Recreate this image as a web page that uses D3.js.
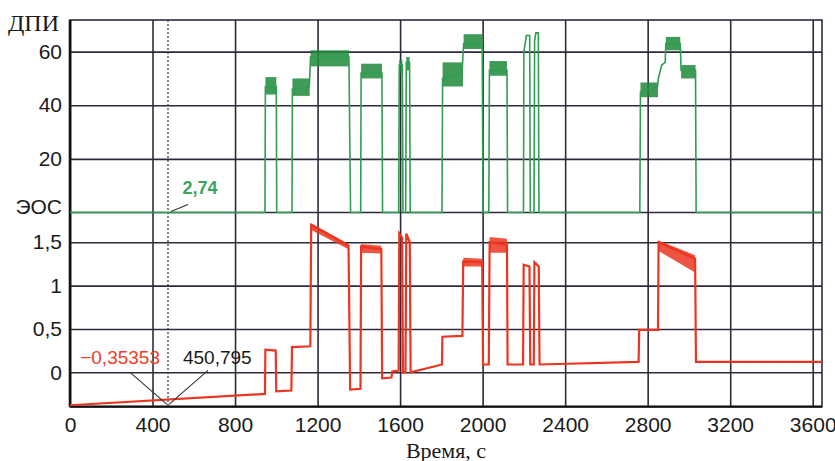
<!DOCTYPE html>
<html>
<head>
<meta charset="utf-8">
<script src="https://cdn.jsdelivr.net/npm/d3@7"></script>
<style>
  html, body { margin: 0; padding: 0; background: #fff; }
  svg { display: block; }
  .tick text { font-family: 'Liberation Sans', Arial, sans-serif; font-size: 21px; fill: #1a1a1a; }
</style>
</head>
<body>
<div id="chart"></div>
<script>
// time ticks, s
const xTicks = [0, 400, 800, 1200, 1600, 2000, 2400, 2800, 3200, 3600];
const dpiTicks = [20, 40, 60];
const eosTicks = [0, 0.5, 1, 1.5];

// ДПИ signal: [time, value]
const dpiSeries = [
  [0, 0], [945, 0], [947, 47], [1000, 47], [1002, 0],
  [1076, 0], [1078, 46], [1160, 47], [1166, 58], [1352, 58], [1360, 0],
  [1409, 0], [1411, 52], [1512, 52], [1515, 0],
  [1593, 0], [1596, 55], [1611, 55], [1614, 0], [1627, 0], [1630, 56], [1646, 56], [1649, 0],
  [1803, 0], [1806, 50], [1900, 52], [1908, 63], [1998, 63], [2002, 0],
  [2030, 0], [2033, 53], [2118, 53], [2121, 0],
  [2198, 0], [2200, 60], [2212, 66], [2228, 66], [2231, 0],
  [2249, 0], [2252, 64], [2258, 67], [2270, 67], [2273, 0],
  [2762, 0], [2765, 45], [2848, 47], [2852, 50], [2868, 55], [2885, 56], [2888, 63],
  [2958, 63], [2962, 53], [3032, 53], [3035, 0],
  [3645, 0]
];
// noisy plateaus of ДПИ: [t0, t1, low, high]
const dpiNoise = [
  [947, 1000, 44, 50.5], [1078, 1162, 43.5, 50], [1166, 1352, 54.5, 60.5],
  [1411, 1512, 50, 55.5], [1596, 1611, 52, 57], [1630, 1646, 53, 58],
  [1806, 1905, 47, 56], [1908, 1998, 61, 66.5], [2033, 2118, 51, 56.5],
  [2765, 2850, 43, 48.5], [2888, 2958, 60.5, 65.5], [2962, 3032, 50, 55]
];

// ЭОС signal: [time, value]
const eosSeries = [
  [0, -0.38], [945, -0.25], [947, 0.26], [997, 0.25], [1000, -0.22],
  [1073, -0.21], [1076, 0.29], [1165, 0.30], [1169, 1.70], [1350, 1.46], [1358, -0.20],
  [1408, -0.19], [1411, 1.45], [1509, 1.42], [1513, -0.07], [1558, -0.06], [1562, 0.01],
  [1593, 0.02], [1596, 1.60], [1610, 1.55], [1614, 0.0], [1626, 0.0], [1630, 1.60],
  [1647, 1.50], [1651, 0.0], [1803, 0.09], [1805, 0.41], [1902, 0.42], [1906, 1.28],
  [1998, 1.27], [2002, 0.09], [2030, 0.09], [2034, 1.50], [2118, 1.47], [2121, 0.09],
  [2196, 0.09], [2199, 1.24], [2227, 1.22], [2231, 0.09], [2248, 0.09], [2251, 1.27],
  [2272, 1.22], [2276, 0.09], [2756, 0.12], [2759, 0.49], [2850, 0.49], [2853, 1.50],
  [3030, 1.31], [3034, 0.12], [3645, 0.12]
];
// noisy plateaus of ЭОС: [t0, t1, low0, high0, low1, high1]
const eosNoise = [
  [1169, 1350, 1.64, 1.72, 1.42, 1.48],
  [1411, 1509, 1.38, 1.48, 1.37, 1.46],
  [1906, 1998, 1.22, 1.32, 1.22, 1.31],
  [2034, 2118, 1.38, 1.56, 1.38, 1.54],
  [2853, 3030, 1.40, 1.52, 1.15, 1.35]
];

// cursor
const cursorT = 475;
const cursorTimeLabel = '450,795';
const cursorDpiLabel = '2,74';
const cursorEosLabel = '\u22120,35353';
const cursorEos = -0.37;

const W = 835, H = 461;
const box = { left: 70, right: 822, top: 20, mid: 212.5, bottom: 406.7 };
const gridColor = '#2e2a3c';
const green = '#2f9e4f';
const greenDark = '#1f8a3c';
const red = '#ec3520';

const svg = d3.select('#chart').append('svg')
  .attr('width', W).attr('height', H);

const x = d3.scaleLinear().domain([0, 3645]).range([box.left, box.right]);
const yDpi = d3.scaleLinear().domain([0, 71.8]).range([box.mid, box.top]);
const yEos = d3.scaleLinear().domain([-0.397, 1.843]).range([box.bottom, box.mid]);

const fmt = d3.formatLocale({ decimal: ',', thousands: '', grouping: [3], currency: ['', ''] }).format('~g');

// vertical grid
svg.append('g')
  .attr('transform', `translate(0,${box.bottom})`)
  .call(d3.axisBottom(x).tickValues(xTicks).tickSize(-(box.bottom - box.top)).tickFormat(''))
  .call(g => g.select('.domain').remove())
  .call(g => g.selectAll('line').attr('stroke', gridColor).attr('stroke-width', 1.6));

// horizontal grid
[[yDpi, dpiTicks], [yEos, eosTicks]].forEach(([y, ticks]) => {
  svg.append('g')
    .attr('transform', `translate(${box.left},0)`)
    .call(d3.axisLeft(y).tickValues(ticks).tickSize(-(box.right - box.left)).tickFormat(''))
    .call(g => g.select('.domain').remove())
    .call(g => g.selectAll('line').attr('stroke', gridColor).attr('stroke-width', 1.6));
});

// panel borders
svg.append('rect')
  .attr('x', box.left).attr('y', box.top)
  .attr('width', box.right - box.left).attr('height', box.bottom - box.top)
  .attr('fill', 'none').attr('stroke', gridColor).attr('stroke-width', 1.6);
svg.append('line')
  .attr('x1', box.left).attr('x2', box.right).attr('y1', box.mid).attr('y2', box.mid)
  .attr('stroke', gridColor).attr('stroke-width', 1.6);
svg.append('line')
  .attr('x1', box.left).attr('x2', box.left).attr('y1', box.top).attr('y2', box.bottom)
  .attr('stroke', '#111').attr('stroke-width', 2.6);
svg.append('line')
  .attr('x1', box.left).attr('x2', box.right).attr('y1', box.bottom).attr('y2', box.bottom)
  .attr('stroke', '#111').attr('stroke-width', 2.2);

// cursor
svg.append('line')
  .attr('x1', x(cursorT)).attr('x2', x(cursorT))
  .attr('y1', box.top).attr('y2', box.bottom)
  .attr('stroke', '#333').attr('stroke-width', 1.2)
  .attr('stroke-dasharray', '2,2');

// noise bands
svg.append('g').selectAll('rect')
  .data(dpiNoise)
  .join('rect')
  .attr('x', d => x(d[0]))
  .attr('width', d => x(d[1]) - x(d[0]))
  .attr('y', d => yDpi(d[3]))
  .attr('height', d => yDpi(d[2]) - yDpi(d[3]))
  .attr('fill', greenDark)
  .attr('opacity', 0.85);

svg.append('g').selectAll('path')
  .data(eosNoise)
  .join('path')
  .attr('d', d => `M${x(d[0])},${yEos(d[3])}L${x(d[1])},${yEos(d[5])}L${x(d[1])},${yEos(d[4])}L${x(d[0])},${yEos(d[2])}Z`)
  .attr('fill', red)
  .attr('opacity', 0.85);

// series
const lineDpi = d3.line().x(d => x(d[0])).y(d => yDpi(d[1]));
const lineEos = d3.line().x(d => x(d[0])).y(d => yEos(d[1]));

svg.append('path')
  .datum(dpiSeries)
  .attr('d', lineDpi)
  .attr('fill', 'none')
  .attr('stroke', green)
  .attr('stroke-width', 1.6);

svg.append('path')
  .datum(eosSeries)
  .attr('d', lineEos)
  .attr('fill', 'none')
  .attr('stroke', red)
  .attr('stroke-width', 2.2);

// tick labels
svg.append('g')
  .attr('transform', `translate(${box.left},0)`)
  .call(d3.axisLeft(yDpi).tickValues(dpiTicks).tickSize(0).tickPadding(8).tickFormat(fmt))
  .call(g => g.select('.domain').remove());
svg.append('g')
  .attr('transform', `translate(${box.left},0)`)
  .call(d3.axisLeft(yEos).tickValues(eosTicks).tickSize(0).tickPadding(8).tickFormat(fmt))
  .call(g => g.select('.domain').remove());
svg.append('g')
  .attr('transform', `translate(0,${box.bottom})`)
  .call(d3.axisBottom(x).tickValues(xTicks).tickSize(0).tickPadding(10).tickFormat(fmt))
  .call(g => g.select('.domain').remove());

// axis titles
svg.append('text')
  .attr('x', 8).attr('y', 31)
  .attr('font-family', "'Liberation Serif', serif")
  .attr('font-size', 24)
  .attr('fill', '#1a1a1a')
  .text('ДПИ');
svg.append('text')
  .attr('x', 62).attr('y', box.mid + 1)
  .attr('text-anchor', 'end')
  .attr('font-family', "'Liberation Sans', Arial, sans-serif")
  .attr('font-size', 21)
  .attr('fill', '#1a1a1a')
  .text('ЭОС');
svg.append('text')
  .attr('x', 446).attr('y', 458)
  .attr('text-anchor', 'middle')
  .attr('font-family', "'Liberation Serif', serif")
  .attr('font-size', 22)
  .attr('fill', '#1a1a1a')
  .text('Время, с');

// cursor annotations
const cx = x(cursorT);
const cyDpi = yDpi(0);
const cyEos = yEos(cursorEos);

svg.append('line')
  .attr('x1', cx + 3).attr('y1', cyDpi - 1)
  .attr('x2', cx + 20).attr('y2', cyDpi - 8)
  .attr('stroke', '#333').attr('stroke-width', 1.1);
svg.append('text')
  .attr('x', cx + 32).attr('y', cyDpi - 19)
  .attr('text-anchor', 'middle')
  .attr('font-family', "'Liberation Sans', Arial, sans-serif")
  .attr('font-weight', 'bold')
  .attr('font-size', 18)
  .attr('fill', '#3aa65c')
  .text(cursorDpiLabel);

svg.append('line')
  .attr('x1', cx - 1).attr('y1', cyEos)
  .attr('x2', cx - 38).attr('y2', cyEos - 32)
  .attr('stroke', '#333').attr('stroke-width', 1.1);
svg.append('line')
  .attr('x1', cx + 1).attr('y1', cyEos)
  .attr('x2', cx + 40).attr('y2', cyEos - 34)
  .attr('stroke', '#333').attr('stroke-width', 1.1);
svg.append('text')
  .attr('x', cx - 8).attr('y', cyEos - 40)
  .attr('text-anchor', 'end')
  .attr('font-family', "'Liberation Sans', Arial, sans-serif")
  .attr('font-size', 19)
  .attr('fill', '#ec4028')
  .text(cursorEosLabel);
svg.append('text')
  .attr('x', cx + 15).attr('y', cyEos - 40)
  .attr('font-family', "'Liberation Sans', Arial, sans-serif")
  .attr('font-size', 19)
  .attr('fill', '#1a1a1a')
  .text(cursorTimeLabel);
</script>
</body>
</html>
